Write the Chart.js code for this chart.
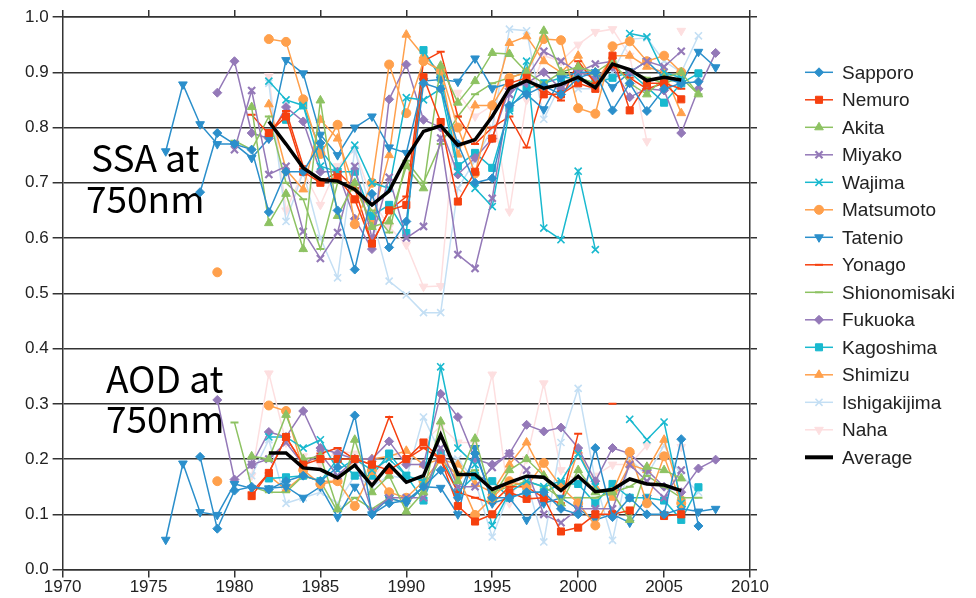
<!DOCTYPE html>
<html><head><meta charset="utf-8">
<script src="https://cdn.jsdelivr.net/npm/chart.js@4/dist/chart.umd.min.js"></script>
<style>html,body{margin:0;padding:0;background:#fff}canvas{display:block}</style>
</head><body>
<canvas id="c" width="976" height="598"></canvas>
<script>
// Years 1976 .. 2008
const years = [1976,1977,1978,1979, 1980,1981,1982,1983,1984, 1985,1986,1987,1988,1989,
  1990,1991,1992,1993,1994, 1995,1996,1997,1998,1999, 2000,2001,2002,2003,2004, 2005,2006,2007,2008];
const N = null;

// ---- SSA at 750 nm ----
const ssaSapporo = [N,N,0.683,0.79, 0.77,0.76,0.647,0.72,0.72, 0.772,0.65,0.543,0.68,0.583, 0.63,0.88,0.87,0.77,0.70, 0.708,0.84,0.86,0.875,0.86, 0.89,0.90,0.831,0.88,0.83, 0.87,0.88,0.883,N];
const ssaNemuro = [N,N,N,N, N,N,0.79,0.82,0.72, 0.70,0.71,0.67,0.59,0.65, 0.66,0.891,0.81,0.666,0.72, 0.78,0.88,0.89,0.86,0.86, 0.88,0.87,0.93,0.831,0.88, 0.88,0.851,N,N];
const ssaAkita = [N,N,N,N, N,0.837,0.627,0.68,0.58, 0.849,0.64,0.70,0.62,0.63, 0.73,0.69,0.912,0.845,0.884, 0.935,0.933,0.90,0.975,0.90, 0.91,0.90,0.92,0.88,0.86, 0.89,0.90,0.86,N];
const ssaMiyako = [N,N,N,N, 0.76,0.867,0.715,0.73,0.612, 0.563,0.61,0.73,0.60,0.71, 0.60,0.621,0.781,0.57,0.545, 0.672,0.86,0.89,0.938,0.92, 0.90,0.915,0.92,0.90,0.92, 0.91,0.938,N,N];
const ssaWajima = [N,N,N,N, N,N,0.884,0.85,0.84, 0.73,0.72,0.768,0.70,0.69, 0.854,0.85,0.87,0.72,0.69, 0.657,0.83,0.92,0.618,0.597, 0.721,0.579,N,0.97,0.964, 0.90,0.89,N,N];
const ssaMatsumoto = [N,N,N,0.538, N,N,0.96,0.955,0.851, 0.752,0.805,0.625,0.70,0.914, 0.826,0.92,0.903,0.80,0.717, 0.84,0.89,0.90,0.96,0.958, 0.835,0.825,0.947,0.956,0.92, 0.93,0.90,N,N];
const ssaTatenio = [0.757,0.878,0.806,0.77, 0.77,0.745,0.78,0.922,0.898, 0.787,0.75,0.80,0.82,0.764, 0.754,0.884,0.887,0.883,0.925, 0.871,0.88,0.86,0.833,0.89, 0.90,0.90,0.873,0.90,0.92, 0.89,0.88,0.937,0.909];
const ssaYonago = [N,N,N,N, N,0.823,0.788,0.83,0.73, 0.70,0.72,0.69,0.59,0.65, 0.675,0.92,0.937,0.82,0.77, 0.80,0.82,0.764,0.87,0.849, 0.92,0.88,0.91,0.89,0.87, 0.88,0.87,N,N];
const ssaShionomisaki = [N,N,N,N, 0.776,0.76,0.82,0.70,0.67, 0.58,0.70,0.69,0.65,0.61, 0.74,0.70,0.77,0.82,0.86, 0.88,0.89,0.90,0.88,0.90, 0.89,0.88,0.92,0.90,0.89, 0.88,0.89,0.86,N];
const ssaFukuoka = [N,N,N,0.863, 0.92,0.79,0.78,0.837,0.811, 0.72,0.72,0.635,0.58,0.851, 0.914,0.814,0.80,0.715,0.745, 0.78,0.87,0.88,0.90,0.87, 0.90,0.89,0.91,0.855,0.87, 0.867,0.79,0.87,0.935];
const ssaKagoshima = [N,N,N,N, N,N,N,0.814,0.84, 0.76,0.72,0.72,0.64,0.66, 0.609,0.94,0.89,0.73,0.754, 0.727,0.835,0.87,0.88,0.89, 0.89,0.88,0.89,0.90,0.873, 0.845,0.88,0.898,N];
const ssaShimizu = [N,N,N,N, N,N,0.842,0.724,0.688, 0.814,0.78,0.69,0.63,0.75, 0.968,0.93,0.90,0.751,0.84, 0.84,0.953,0.965,0.92,0.90, 0.93,0.88,0.93,0.93,0.91, 0.90,0.826,N,N];
const ssaIshigakijima = [N,N,N,N, N,N,0.88,0.63,0.72, 0.60,0.528,0.76,0.64,0.522, 0.497,0.465,0.465,0.69,0.74, 0.80,0.978,0.975,0.815,0.88, 0.87,0.87,0.90,0.96,0.962, 0.92,0.90,0.966,N];
const ssaNaha = [N,N,N,N, N,N,0.893,0.65,0.72, 0.66,0.73,0.76,0.67,0.62, 0.588,0.512,0.513,0.863,0.82, 0.84,0.648,0.85,0.93,0.92, 0.95,0.973,0.978,0.93,0.775, N,0.975,N,N];
const ssaAverage = [N,N,N,N, N,N,0.811,0.77,0.727, 0.706,0.703,0.688,0.66,0.685, 0.745,0.793,0.803,0.768,0.778, 0.82,0.871,0.885,0.871,0.878, 0.891,0.872,0.915,0.905,0.885, 0.891,0.886,N,N];

// ---- AOD at 750 nm ----
const aodSapporo = [N,N,0.204,0.074, 0.143,0.15,0.145,0.16,0.17, 0.16,0.185,0.279,0.10,0.12, 0.125,0.15,0.18,0.13,0.21, 0.13,0.13,0.14,0.14,0.11, 0.10,0.22,0.095,0.13,0.10, 0.10,0.236,0.079,N];
const aodNemuro = [N,N,N,N, N,0.133,0.175,0.24,0.19, 0.20,0.20,0.20,0.19,0.18, 0.20,0.23,0.20,0.115,0.087, 0.10,0.14,0.128,0.13,0.069, 0.076,0.10,0.10,0.107,N, 0.097,0.10,N,N];
const aodAkita = [N,N,N,N, N,0.205,0.20,0.28,0.20, 0.205,0.11,0.235,0.14,0.17, 0.105,0.14,0.268,0.16,0.237, 0.13,0.18,0.20,0.17,0.12, 0.18,0.14,0.14,0.09,0.186, 0.18,0.165,N,N];
const aodMiyako = [N,N,N,N, N,0.19,0.20,0.23,0.19, 0.21,0.17,0.20,0.105,0.13, 0.13,0.13,0.22,0.15,0.15, 0.185,0.21,0.18,0.10,0.085, 0.11,0.11,0.11,0.19,0.16, 0.13,0.18,N,N];
const aodWajima = [N,N,N,N, N,N,0.24,0.24,0.22, 0.235,0.18,0.20,0.18,0.20, 0.17,0.16,0.367,0.22,0.19, 0.08,0.14,0.16,0.15,0.16, 0.21,0.15,N,0.272,0.235, 0.267,0.12,N,N];
const aodMatsumoto = [N,N,N,0.16, N,N,0.297,0.287,0.18, 0.155,0.16,0.115,0.18,0.14, 0.13,0.16,0.20,0.17,0.099, 0.13,0.16,0.15,0.193,0.15, 0.12,0.08,0.14,0.213,0.12, 0.205,0.12,N,N];
const aodTatenio = [0.054,0.192,0.104,0.099, 0.155,0.147,0.147,0.15,0.13, 0.15,0.095,0.15,0.10,0.13, 0.12,0.15,0.148,0.10,0.22, 0.12,0.13,0.09,0.12,0.13, 0.11,0.09,0.10,0.085,0.13, 0.10,0.11,0.105,0.11];
const aodYonago = [N,N,N,N, N,0.14,0.175,0.24,0.19, 0.21,0.22,0.20,0.19,0.276, 0.20,0.22,0.20,0.14,0.13, 0.12,0.15,0.15,0.13,0.12, 0.246,N,0.30,N,N, N,N,N,N];
const aodShionomisaki = [N,N,N,N, 0.266,0.15,0.14,0.14,0.17, 0.16,0.105,0.13,0.11,0.13, 0.12,0.15,0.20,0.17,0.18, 0.14,0.15,0.16,0.15,0.13, 0.13,0.13,0.14,0.15,0.17, 0.15,0.13,0.13,N];
const aodFukuoka = [N,N,N,0.307, 0.163,0.19,0.249,0.24,0.287, 0.22,0.21,0.20,0.20,0.232, 0.19,0.19,0.318,0.276,0.20, 0.19,0.21,0.262,0.25,0.257, 0.22,0.16,0.22,0.21,0.18, 0.15,0.14,0.183,0.199];
const aodKagoshima = [N,N,N,N, N,N,0.165,0.167,0.17, 0.16,0.20,0.17,0.17,0.21, 0.17,0.125,0.21,0.14,0.17, 0.16,0.13,0.14,0.14,0.155, 0.155,0.12,0.155,0.13,0.13, 0.125,0.09,0.149,N];
const aodShimizu = [N,N,N,N, N,N,0.17,0.145,0.17, 0.16,0.16,0.20,0.20,0.205, 0.215,0.19,0.20,0.19,0.155, 0.14,0.19,0.23,0.17,0.12, 0.215,0.15,0.13,0.19,0.18, 0.235,0.13,N,N];
const aodIshigakijima = [N,N,N,N, N,0.17,0.235,0.12,0.13, 0.14,0.12,0.17,0.15,0.17, 0.165,0.276,0.21,0.20,0.16, 0.059,0.14,0.16,0.05,0.23, 0.328,0.16,0.053,0.20,0.17, 0.225,0.17,0.14,N];
const aodNaha = [N,N,N,N, N,0.17,0.355,0.23,0.205, 0.19,0.215,0.21,0.16,0.21, 0.20,0.23,0.26,0.23,0.23, 0.353,0.12,0.20,0.337,0.18, 0.16,0.17,0.19,0.19,0.225, N,0.222,N,N];
const aodAverage = [N,N,N,N, N,N,0.211,0.211,0.184, 0.181,0.166,0.189,0.152,0.19, 0.158,0.17,0.244,0.172,0.172, 0.145,0.158,0.169,0.167,0.143, 0.169,0.141,0.145,0.164,0.155, 0.153,0.143,N,N];

const stationNames = ['Sapporo','Nemuro','Akita','Miyako','Wajima','Matsumoto','Tatenio','Yonago','Shionomisaki','Fukuoka','Kagoshima','Shimizu','Ishigakijima','Naha'];
const ssaSeries = [ssaSapporo,ssaNemuro,ssaAkita,ssaMiyako,ssaWajima,ssaMatsumoto,ssaTatenio,ssaYonago,ssaShionomisaki,ssaFukuoka,ssaKagoshima,ssaShimizu,ssaIshigakijima,ssaNaha];
const aodSeries = [aodSapporo,aodNemuro,aodAkita,aodMiyako,aodWajima,aodMatsumoto,aodTatenio,aodYonago,aodShionomisaki,aodFukuoka,aodKagoshima,aodShimizu,aodIshigakijima,aodNaha];
const yTickLabels = ['0.0','0.1','0.2','0.3','0.4','0.5','0.6','0.7','0.8','0.9','1.0'];

// styles (colour, marker)
const BLUE='#2b8fcb', RED='#f6400f', GREEN='#8dc262', PURPLE='#9479b8', CYAN='#19b9cf', ORANGE='#ffa04c', LBLUE='#c4dff4', PINK='#fddfe0';
const styles = [
  {c:BLUE, p:'rectRot', r:4.5, rot:0},
  {c:RED, p:'rect', r:5, rot:0},
  {c:GREEN, p:'triangle', r:5, rot:0},
  {c:PURPLE, p:'crossRot', r:5, rot:0, bw:2.2},
  {c:CYAN, p:'crossRot', r:5, rot:0, bw:1.6},
  {c:ORANGE, p:'circle', r:4.5, rot:0},
  {c:BLUE, p:'triangle', r:5, rot:180},
  {c:RED, p:'line', r:4, rot:0, bw:2},
  {c:GREEN, p:'line', r:4, rot:0, bw:2},
  {c:PURPLE, p:'rectRot', r:4.5, rot:0},
  {c:CYAN, p:'rect', r:5, rot:0},
  {c:ORANGE, p:'triangle', r:5, rot:0},
  {c:LBLUE, p:'crossRot', r:5, rot:0, bw:1.6},
  {c:PINK, p:'triangle', r:5, rot:180}
];

function pts(arr){ return years.map((y,i)=>({x:y, y:arr[i]})); }

const datasets = [];
datasets.push({label:'Average', data:pts(ssaAverage), borderColor:'#000', borderWidth:3.5, pointRadius:0, order:0});
datasets.push({label:'Average AOD', data:pts(aodAverage), borderColor:'#000', borderWidth:3.5, pointRadius:0, order:0});
stationNames.forEach((name,i)=>{
  const s = styles[i];
  [ssaSeries[i], aodSeries[i]].forEach((arr,k)=>{
    datasets.push({
      label: k===0 ? name : name+' AOD',
      data: pts(arr),
      borderColor: s.c, backgroundColor: s.c,
      borderWidth: 1.5,
      pointStyle: s.p, pointRadius: s.r, pointRotation: s.rot,
      pointBackgroundColor: s.c, pointBorderColor: s.c,
      pointBorderWidth: s.bw || 1,
      order: 1 + i
    });
  });
});

const overlay = {
  id:'overlay',
  beforeDatasetsDraw(chart){
    const ctx = chart.ctx;
    ctx.save();
    ctx.fillStyle = '#000';
    ctx.font = '37px "Noto Sans CJK JP"';
    ctx.textBaseline = 'alphabetic';
    ctx.textAlign = 'left';
    ctx.fillText('SSA at', 91, 172);
    ctx.fillText('750nm', 86, 213);
    ctx.fillText('AOD at', 106, 393);
    ctx.fillText('750nm', 106, 433);
    ctx.restore();
  },
  afterDraw(chart){
    const ctx = chart.ctx;
    ctx.save();
    const x0 = 805, x1 = 833, tx = 842, y0 = 72.3, step = 27.5;
    const items = stationNames.map((n,i)=>({name:n, s:styles[i]}));
    items.push({name:'Average', s:null});
    items.forEach((it,i)=>{
      const y = y0 + i*step;
      ctx.beginPath();
      ctx.moveTo(x0,y); ctx.lineTo(x1,y);
      if (it.s){
        ctx.strokeStyle = it.s.c; ctx.lineWidth = 1.5; ctx.stroke();
        ctx.fillStyle = it.s.c; ctx.strokeStyle = it.s.c;
        ctx.lineWidth = it.s.bw || 1;
        Chart.helpers.drawPoint(ctx, {pointStyle:it.s.p, radius:it.s.r, rotation:it.s.rot, borderWidth:it.s.bw||1}, (x0+x1)/2, y);
      } else {
        ctx.strokeStyle = '#000'; ctx.lineWidth = 4; ctx.stroke();
      }
      ctx.fillStyle = '#222';
      ctx.font = '19px "Liberation Sans", Arial, sans-serif';
      ctx.textBaseline = 'middle';
      ctx.fillText(it.name, tx, y+1);
    });
    ctx.restore();
  }
};

const AX = '#333';
const tickFont = {family:'"Liberation Sans", Arial, sans-serif', size:17};
new Chart(document.getElementById('c'), {
  type:'line',
  data:{datasets},
  options:{
    responsive:false, animation:false, events:[],
    spanGaps:false,
    elements:{line:{tension:0}},
    layout:{padding:{left:21, right:219, top:10, bottom:0}},
    plugins:{legend:{display:false}, tooltip:{enabled:false}},
    scales:{
      x:{type:'linear', position:'bottom', min:1970, max:2010,
         ticks:{stepSize:5, color:'#222', font:tickFont, padding:0, callback:v=>String(v)},
         grid:{drawOnChartArea:false, color:AX, lineWidth:1.5, tickLength:8},
         border:{color:AX, width:1.5}},
      x2:{type:'linear', position:'top', min:1970, max:2010,
         ticks:{display:false, stepSize:5},
         grid:{drawOnChartArea:false, color:AX, lineWidth:1.5, tickLength:7},
         border:{color:AX, width:1.5}},
      y:{type:'linear', position:'left', min:0, max:1,
         ticks:{stepSize:0.1, color:'#222', font:tickFont, padding:4, callback:(v)=>yTickLabels[Math.round(v*10)]},
         grid:{color:AX, lineWidth:1.5, tickLength:10},
         border:{color:AX, width:1.5}},
      y2:{type:'linear', position:'right', min:0, max:1,
         ticks:{display:false, stepSize:0.1},
         grid:{drawOnChartArea:false, color:AX, lineWidth:1.5, tickLength:7},
         border:{color:AX, width:1.5}}
    }
  },
  plugins:[overlay]
});
</script>
</body></html>
